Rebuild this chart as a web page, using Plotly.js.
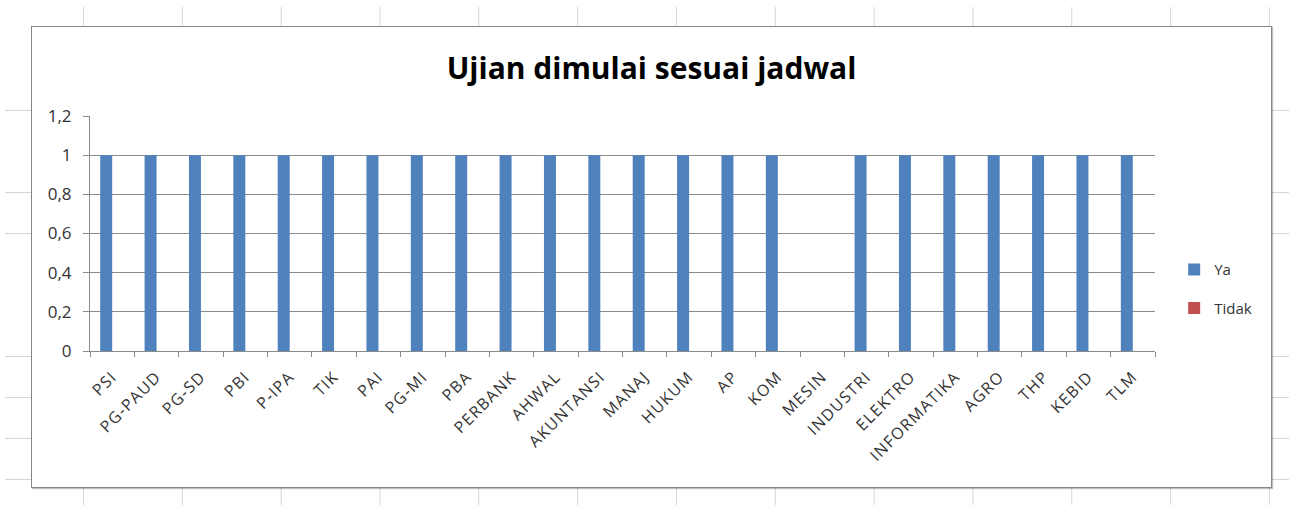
<!DOCTYPE html>
<html>
<head>
<meta charset="utf-8">
<script src="https://cdn.plot.ly/plotly-3.0.1.min.js"></script>
<style>
  html, body { margin: 0; padding: 0; }
  body { width: 1289px; height: 505px; position: relative; overflow: hidden; background: #ffffff; }
  #sheet {
    position: absolute; left: 5px; top: 7px; width: 1284px; height: 498px;
    background-image:
      linear-gradient(to right, #d6d6d6 1px, transparent 1px),
      linear-gradient(to bottom, #d6d6d6 1px, transparent 1px);
    background-size: 98.83px 41px, 98.83px 41px;
    background-position: 78px 0px, 0px 21px;
  }
  #frame {
    position: absolute; left: 31px; top: 26px; width: 1241px; height: 462px;
    box-sizing: border-box; border: 1px solid #858585; background: #ffffff;
    box-shadow: 1px 1px 1px rgba(0,0,0,0.25);
  }
  #chart { width: 1239px; height: 460px; }
  #chart .xtick text { letter-spacing: 1.3px; }
</style>
</head>
<body>
<div id="sheet"></div>
<div id="frame"><div id="chart"></div></div>
<script>
const categories = ["PSI","PG-PAUD","PG-SD","PBI","P-IPA","TIK","PAI","PG-MI","PBA","PERBANK","AHWAL","AKUNTANSI","MANAJ","HUKUM","AP","KOM","MESIN","INDUSTRI","ELEKTRO","INFORMATIKA","AGRO","THP","KEBID","TLM"];
const yaValues    = [1,1,1,1,1,1,1,1,1,1,1,1,1,1,1,1,0,1,1,1,1,1,1,1];
const tidakValues = [0,0,0,0,0,0,0,0,0,0,0,0,0,0,0,0,0,0,0,0,0,0,0,0];
const seriesNames = ["Ya","Tidak"];
const chartTitle = "Ujian dimulai sesuai jadwal";
const yTickVals = [0,0.2,0.4,0.6,0.8,1,1.2];
const yTickText = ["0","0,2","0,4","0,6","0,8","1","1,2"];

const FONT = "'Open Sans', 'Noto Sans', sans-serif";
const GRID = "#8a8a8a";
const TXT = "#333333";

const traces = [
  { type: "bar", name: seriesNames[0], x: categories, y: yaValues,
    marker: { color: "#4F81BD" }, legendgroup: "a", hoverinfo: "x+y" },
  { type: "bar", name: seriesNames[1], x: categories, y: tidakValues,
    marker: { color: "#C0504D" }, legendgroup: "b", hoverinfo: "x+y" }
];

const layout = {
  width: 1239, height: 460,
  margin: { l: 58, r: 116, t: 89, b: 136, pad: 0 },
  paper_bgcolor: "#ffffff", plot_bgcolor: "#ffffff",
  font: { family: FONT, color: TXT, size: 15 },
  title: { text: "<b>" + chartTitle + "</b>", font: { family: FONT, size: 30, color: "#000000" },
           x: 0.5, xanchor: "center", xref: "container", y: 1 - 41/460, yanchor: "middle", yref: "container" },
  barmode: "group", bargap: 0.46, bargroupgap: 0,
  showlegend: true,
  legend: { x: 1.018, xanchor: "left", y: 0.265, yanchor: "middle", traceorder: "grouped",
            tracegroupgap: 16, font: { family: FONT, size: 15, color: TXT }, bgcolor: "rgba(0,0,0,0)" },
  xaxis: {
    type: "category", tickangle: -45, tickson: "boundaries", ticks: "outside", ticklen: 5,
    tickcolor: GRID, showline: true, linecolor: GRID, linewidth: 1, showgrid: false,
    ticklabelstandoff: 9,
    tickfont: { family: FONT, size: 16, color: TXT }, fixedrange: true
  },
  yaxis: {
    range: [0, 1.2], tickvals: yTickVals, ticktext: yTickText, ticks: "outside", ticklen: 6,
    tickcolor: GRID, showline: true, linecolor: GRID, linewidth: 1, showgrid: true,
    gridcolor: GRID, gridwidth: 1, zeroline: false, ticklabelstandoff: 8,
    tickfont: { family: FONT, size: 17, color: TXT }, fixedrange: true
  }
};

Plotly.newPlot("chart", traces, layout, { displayModeBar: false, staticPlot: true });
</script>
</body>
</html>
